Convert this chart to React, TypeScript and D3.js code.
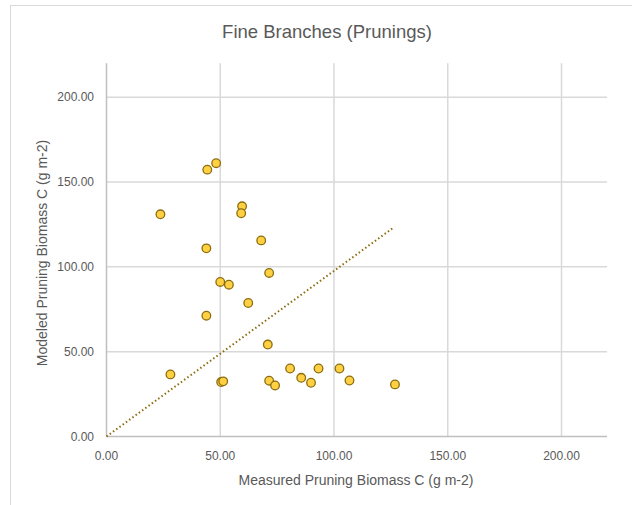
import React from "react";
import * as d3 from "d3";

const measured = [23.7, 44.3, 48.2, 43.9, 59.6, 59.2, 68.0, 71.5, 50.0, 53.8, 62.3, 43.9, 70.9, 28.1, 50.4, 51.3, 71.5, 74.1, 80.7, 85.6, 89.9, 93.2, 102.4, 106.8, 126.8];
const modeled = [131.0, 157.3, 161.1, 110.9, 135.7, 131.6, 115.6, 96.4, 91.1, 89.5, 78.7, 71.2, 54.2, 36.6, 32.1, 32.5, 32.9, 30.1, 40.1, 34.6, 31.7, 40.1, 40.1, 33.0, 30.7];
const refLineX = [0, 126.5];
const refLineY = [0, 123.5];
const ticks = [0, 50, 100, 150, 200];
const title = "Fine Branches (Prunings)";
const xTitle = "Measured Pruning Biomass C (g m-2)";
const yTitle = "Modeled Pruning Biomass C (g m-2)";

export default function App() {
  const W = 632, H = 505;
  const left = 106.5, right = 607, top = 63.3, bottom = 436.5;
  const x = d3.scaleLinear().domain([0, 220]).range([left, right]);
  const y = d3.scaleLinear().domain([0, 220]).range([bottom, top]);
  const grid = "#d9d9d9";
  const txt = "#595959";
  const font = "'Liberation Sans', Arial, sans-serif";
  const line = d3.line<number>().x((_, i) => x(refLineX[i])).y((_, i) => y(refLineY[i]));
  return (
    <svg width={W} height={H} style={{ position: "absolute", left: 0, top: 0, background: "#fff" }}>
      <rect x={10.5} y={5.5} width={W + 10} height={H + 10} fill="#fff" stroke="#d9d9d9" strokeWidth={1} />
      <text x={327} y={38} textAnchor="middle" fontFamily={font} fontSize={18.5} fill={txt}>{title}</text>
      {ticks.map((t) => (
        <g key={"g" + t}>
          {t > 0 && <line x1={left} x2={right} y1={y(t)} y2={y(t)} stroke={grid} strokeWidth={1.5} />}
          {t > 0 && <line x1={x(t)} x2={x(t)} y1={top} y2={bottom} stroke={grid} strokeWidth={1.5} />}
        </g>
      ))}
      <line x1={left} x2={left} y1={top} y2={bottom} stroke="#bfbfbf" strokeWidth={1.5} />
      <line x1={left} x2={right} y1={bottom} y2={bottom} stroke="#bfbfbf" strokeWidth={1.5} />
      {ticks.map((t) => (
        <text key={"yl" + t} x={94} y={y(t)} dy="0.35em" textAnchor="end" fontFamily={font} fontSize={12} fill={txt}>{t.toFixed(2)}</text>
      ))}
      {ticks.map((t) => (
        <text key={"xl" + t} x={x(t)} y={456} dy="0.35em" textAnchor="middle" fontFamily={font} fontSize={12} fill={txt}>{t.toFixed(2)}</text>
      ))}
      <text x={356} y={480} dy="0.35em" textAnchor="middle" fontFamily={font} fontSize={14} fill={txt}>{xTitle}</text>
      <text transform={`translate(42,253) rotate(-90)`} dy="0.35em" textAnchor="middle" fontFamily={font} fontSize={14} fill={txt}>{yTitle}</text>
      <path d={line(refLineX) || ""} fill="none" stroke="#8c6d0f" strokeWidth={2} strokeDasharray="1.5 2.5" />
      {measured.map((m, i) => (
        <circle key={i} cx={x(m)} cy={y(modeled[i])} r={4.3} fill="#ffd142" stroke="#8c6d0f" strokeWidth={1.3} />
      ))}
    </svg>
  );
}
